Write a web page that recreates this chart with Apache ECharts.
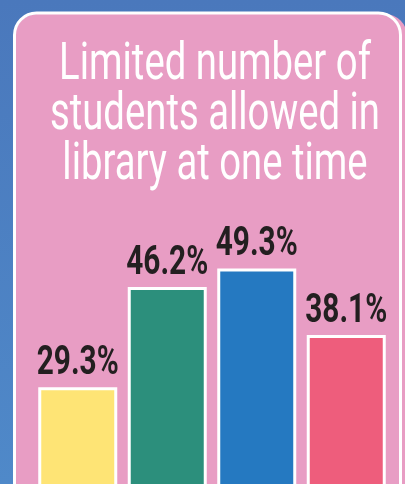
<!DOCTYPE html>
<html>
<head>
<meta charset="utf-8">
<script src="https://cdn.jsdelivr.net/npm/echarts@6/dist/echarts.min.js"></script>
<style>
    html, body { margin: 0; padding: 0; }
    #main { width: 405px; height: 484px; }
</style>
</head>
<body>
<div id="main"></div>
<script>
// 数据
let categories = ['1', '2', '3', '4'];
let values = [29.3, 46.2, 49.3, 38.1];
let titleLines = ['Limited number of', 'students allowed in', 'library at one time'];

let barColors = ['#fee475', '#2c8f7c', '#2579c1', '#ee5d7c'];

// 没有窄体字体，用 Roboto 横向压缩
let fontName = 'Roboto';
let titleFont = 'normal 51px ' + fontName;
let labelFont = 'bold 41px ' + fontName;
let probe = document.createElement('canvas').getContext('2d');
probe.font = titleFont;
let titleScale = 330 / probe.measureText(titleLines[1]).width;
probe.font = labelFont;
let labelScale = 82 / probe.measureText('29.3%').width;

let myChart = echarts.init(document.getElementById('main'));

let option = {
    animation: false,
    graphic: [
        {
            type: 'rect',
            z: -20,
            shape: { x: 0, y: 0, width: 405, height: 484 },
            style: {
                fill: new echarts.graphic.LinearGradient(0, 0, 0, 1, [
                    { offset: 0, color: '#4a78bc' },
                    { offset: 1, color: '#4f89c9' }
                ])
            }
        },
        {
            type: 'rect',
            z: -19,
            shape: { x: 15, y: 14, width: 392, height: 520, r: 22 },
            style: { fill: '#e89dc4' }
        },
        {
            type: 'rect',
            z: -18,
            shape: { x: 14.5, y: 13, width: 386, height: 520, r: 22 },
            style: { fill: 'none', stroke: '#ffffff', lineWidth: 3 }
        },
        {
            type: 'text',
            z: 10,
            x: 215,
            y: 41,
            scaleX: titleScale,
            style: {
                text: titleLines.join('\n'),
                fill: '#ffffff',
                font: titleFont,
                lineHeight: 50,
                align: 'center',
                verticalAlign: 'top'
            }
        }
    ],
    grid: {
        left: 33,
        right: 14,
        top: 205,
        bottom: -77,
        outerBoundsMode: 'none'
    },
    xAxis: {
        type: 'category',
        data: categories,
        show: false
    },
    yAxis: {
        type: 'value',
        min: 0,
        max: 60,
        show: false
    },
    series: [
        {
            type: 'bar',
            barWidth: 79,
            data: values.map(function (v, i) {
                return { value: v, itemStyle: { color: barColors[i] } };
            }),
            itemStyle: {
                borderColor: '#ffffff',
                borderWidth: 3
            }
        },
        {
            // 数值标签（压缩字形）
            type: 'custom',
            z: 5,
            data: values.map(function (v, i) { return [categories[i], v]; }),
            renderItem: function (params, api) {
                let p = api.coord([api.value(0), api.value(1)]);
                return {
                    type: 'text',
                    x: p[0],
                    y: p[1] - 3,
                    scaleX: labelScale,
                    style: {
                        text: api.value(1) + '%',
                        fill: '#231f20',
                        font: labelFont,
                        align: 'center',
                        verticalAlign: 'bottom'
                    }
                };
            }
        }
    ]
};

myChart.setOption(option);
</script>
</body>
</html>
